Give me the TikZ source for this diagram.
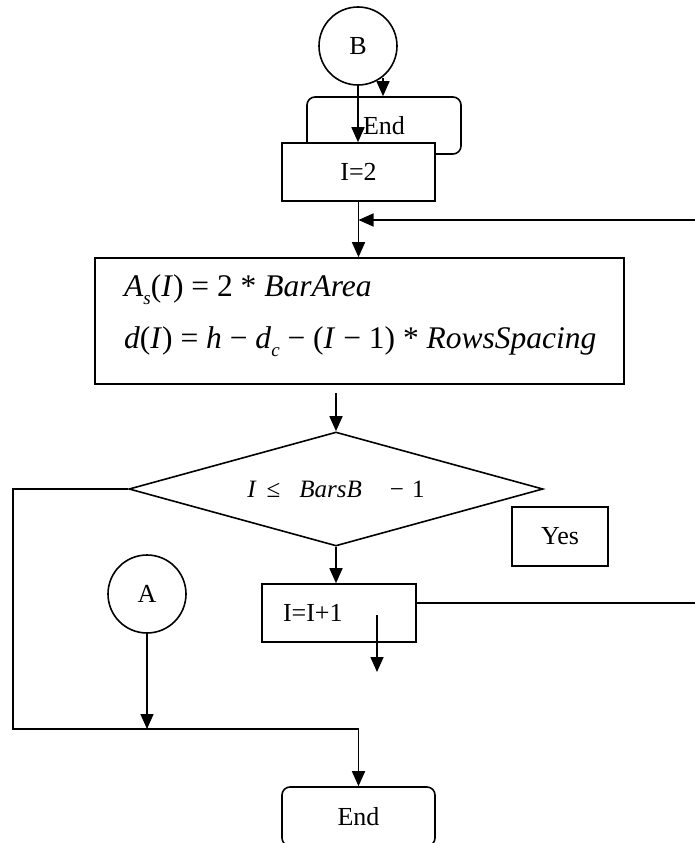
\documentclass[tikz,border=0pt]{standalone}
\usepackage{fontspec}
\setmainfont{Liberation Serif}
\usetikzlibrary{arrows.meta,shapes.geometric}
\newcommand\lowsub[1]{\raisebox{-0.28em}{\fontsize{19}{19}\selectfont\itshape #1}}
\begin{document}
\begin{tikzpicture}[x=1pt,y=-1pt,
  line width=1.6pt,
  every node/.style={font=\fontsize{26}{30}\selectfont},
  box/.style={draw, rectangle, inner sep=0pt},
  term/.style={draw, rectangle, rounded corners=8pt, inner sep=0pt},
  conn/.style={draw, circle, inner sep=0pt, minimum size=78pt},
  arr/.style={-{Triangle[length=15pt,width=13pt]}},
  formula/.style={anchor=base west, font=\fontsize{31.5}{32}\selectfont}]
\useasboundingbox (0,0) rectangle (695,843);
% nodes
\node[conn] (B) at (358,46) {B};
\node[term, minimum width=154pt, minimum height=57pt] (endt) at (384,125.5) {End};
\node[box, fill=white, minimum width=153pt, minimum height=58pt] (i2) at (358.5,172) {I=2};
\node[box, minimum width=529pt, minimum height=126pt] (form) at (359.5,321) {};
\node[formula] (f1) at (120,296) {\textit{A}\lowsub{s}(\textit{I}) = 2 * \textit{BarArea}};
\node[formula] (f2) at (120,348) {\textit{d}(\textit{I}) = \textit{h} − \textit{d}\lowsub{c} − (\textit{I} − 1) * \textit{RowsSpacing}};
\node[draw, diamond, aspect=3.63, minimum width=414pt, minimum height=114pt, inner sep=0pt,
      font=\fontsize{25}{30}\selectfont] (dec) at (336,489)
  {\textit{I}\hspace{10pt}≤\hspace{19pt}\textit{BarsB}\hspace{28pt}−\hspace{8pt}1};
\node[box, minimum width=96pt, minimum height=59pt] (yes) at (560,536.5) {Yes};
\node[box, minimum width=154pt, minimum height=58pt, text width=112pt, inner xsep=21pt, align=left] (inc) at (339,613) {I=I+1};
\node[conn] (A) at (147,594) {A};
\node[term, minimum width=153pt, minimum height=59pt] (endb) at (358.5,816.5) {End};
% free ends
\coordinate (bs) at (383,78);
\coordinate (fbR) at (695,220);
\coordinate (fs) at (336,393);
\coordinate (incR) at (695,603);
\coordinate (incA) at (377,615);
\coordinate (incB) at (377,672);
\coordinate (lt) at (13,489);
\coordinate (lb) at (13,729);
% connectors
\draw[arr] (B.south) -- (B.south |- i2.north);
\draw[arr] (bs) -- (bs |- endt.north);
\draw[arr] (i2.south) -- (i2.south |- form.north);
\draw[arr] (fbR) -- (i2.south |- fbR);
\draw[arr] (fs) -- (dec.north);
\draw[arr] (dec.south) -- (dec.south |- inc.north);
\draw (inc.east |- incR) -- (incR);
\draw[arr] (incA) -- (incB);
\draw[arr] (A.south) -- (A.south |- lb);
\draw[arr] (dec.west) -- (lt) -- (lb) -| (endb.north);
\end{tikzpicture}
\end{document}
